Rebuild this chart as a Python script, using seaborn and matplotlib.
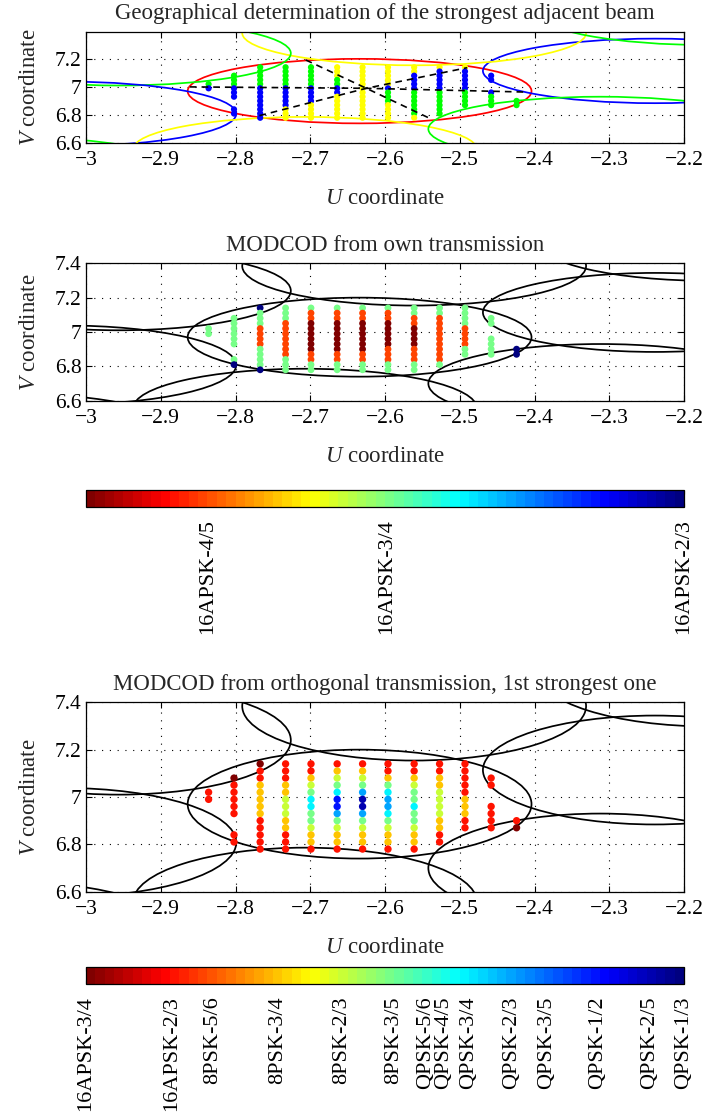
import numpy as np
import pandas as pd
import matplotlib
matplotlib.use("Agg")
import matplotlib.pyplot as plt
import seaborn as sns
from matplotlib.patches import Ellipse
from matplotlib.colors import Normalize, LinearSegmentedColormap
from matplotlib.cm import ScalarMappable
from matplotlib.ticker import FuncFormatter

# ---------------- data ----------------
# evaluation grid inside the central beam
col_u = [-2.836, -2.802, -2.767, -2.733, -2.699, -2.664, -2.630,
         -2.596, -2.561, -2.527, -2.493, -2.458, -2.424]
row_v = [7.14, 7.11, 7.08, 7.05, 7.02, 6.99, 6.96, 6.93, 6.90, 6.87, 6.84, 6.81, 6.78]

# panel 1: strongest adjacent beam (G green, B blue, Y yellow), rows top->bottom
adjacent_cols = [
    "....GB.......",
    "..GGGBBB..BB.",
    "GGGGGBBBBBBBB",
    "GGGGGBBBBBYYY",
    "GGGGGBBBBYYYY",
    "YYYGGBBYYYYYY",
    "YYYYYYYYYYYYY",
    "YYYYYBGGGYYYY",
    "YYBBBBGGGGGGY",
    "YBBBBBGGGGGG.",
    "YBBBBBGGGG...",
    "..BB..BGGG...",
    "........GG...",
]
adjacent_palette = {"G": (0, 1, 0), "B": (0, 0, 1), "Y": (1, 1, 0)}

# panel 2: MODCOD from own transmission
own_cols = [
    "....LL.......",
    "..LLLLLL..LB.",
    "BLLLOOOOLLLLB",
    "LLLOOOOOOOLLL",
    "LOODDDDDDOOLL",
    "LOODDDDDDOOLL",
    "LOODDDDDDOOLL",
    "LOODDDDDOOOLL",
    "LLOODDDDOOOLL",
    "LLOOOOOOOOOL.",
    "LLLLOOOOLL...",
    "..LL..LLLL...",
    "........BB...",
]
own_codes = {"D": "16APSK-5/6", "O": "16APSK-4/5", "L": "16APSK-3/4", "B": "16APSK-2/3"}

# panel 3: MODCOD from orthogonal transmission
orth_cols = [
    "....rr.......",
    "..arrrrr..rr.",
    "arryyyyyrrrrr",
    "rrryygggyyrrr",
    "rryglccllgyyr",
    "ryglcbbklgyyr",
    "ryglkddklgyyr",
    "rrylckkclgyyr",
    "rrygllcllgyyr",
    "rryyggggyyrr.",
    "rrrrryyyrr...",
    "..rr..rrrr...",
    "........ra...",
]
orth_codes = {"a": "16APSK-3/4", "r": "16APSK-2/3", "o": "8PSK-5/6", "y": "8PSK-3/4",
              "g": "8PSK-2/3", "l": "8PSK-3/5", "c": "QPSK-3/4", "k": "QPSK-2/3",
              "b": "QPSK-1/2", "d": "QPSK-2/5"}

# spectral efficiency of each MODCOD (bit/symbol)
modcods = ["16APSK-5/6", "16APSK-4/5", "16APSK-3/4", "16APSK-2/3", "8PSK-5/6", "8PSK-3/4",
           "8PSK-2/3", "8PSK-3/5", "QPSK-5/6", "QPSK-4/5", "QPSK-3/4", "QPSK-2/3",
           "QPSK-3/5", "QPSK-1/2", "QPSK-2/5", "QPSK-1/3"]
efficiency = [3.300184, 3.165623, 2.966728, 2.637201, 2.478562, 2.228124,
              1.980636, 1.779991, 1.654663, 1.587196, 1.487473, 1.322253,
              1.188304, 0.988858, 0.789412, 0.656966]
eff = dict(zip(modcods, efficiency))

cb1_labels = ["16APSK-4/5", "16APSK-3/4", "16APSK-2/3"]
cb2_labels = ["16APSK-3/4", "16APSK-2/3", "8PSK-5/6", "8PSK-3/4", "8PSK-2/3", "8PSK-3/5",
              "QPSK-5/6", "QPSK-4/5", "QPSK-3/4", "QPSK-2/3", "QPSK-3/5", "QPSK-1/2",
              "QPSK-2/5", "QPSK-1/3"]

# beam footprints (centre u, v) and radius
beam_u = [-2.634, -2.239, -2.561, -2.956, -3.029, -2.707, -2.312, -2.166, -3.102]
beam_v = [6.970, 7.114, 7.384, 7.240, 6.808, 6.556, 6.700, 7.528, 6.412]
beam_color = ["red", "blue", "yellow", (0, 1, 0), "blue", "yellow", (0, 1, 0), (0, 1, 0), (0, 1, 0)]
beam_radius = 0.23

# dashed region boundaries (crossing point and 3 pairs of end points)
cross_u, cross_v = -2.625, 6.99
dash_a_u, dash_a_v = [-2.861, -2.410], [7.000, 6.963]
dash_b_u, dash_b_v = [-2.706, -2.539], [7.192, 6.773]
dash_c_u, dash_c_v = [-2.768, -2.490], [6.795, 7.137]


def grid_frame(cols, mapping=None):
    recs = []
    for u, s in zip(col_u, cols):
        for v, ch in zip(row_v, s):
            if ch == ".":
                continue
            recs.append({"u": u, "v": v, "code": ch,
                         "eff": eff[mapping[ch]] if mapping else np.nan})
    return pd.DataFrame(recs)


df1 = grid_frame(adjacent_cols)
df2 = grid_frame(own_cols, own_codes)
df3 = grid_frame(orth_cols, orth_codes)

# ---------------- style ----------------
sns.set_style("ticks")
plt.rcParams["font.family"] = ["Liberation Serif", "DejaVu Serif"]
plt.rcParams["mathtext.fontset"] = "custom"
plt.rcParams["mathtext.it"] = "Liberation Serif:italic"
plt.rcParams["mathtext.rm"] = "Liberation Serif"
plt.rcParams["axes.unicode_minus"] = True

# MATLAB-style jet with 64 levels
matlab_jet = LinearSegmentedColormap("mjet", {
    "red":   [(0, 0, 0), (0.375, 0, 0), (0.625, 1, 1), (0.875, 1, 1), (1, 0.5, 0.5)],
    "green": [(0, 0, 0), (0.125, 0, 0), (0.375, 1, 1), (0.625, 1, 1), (0.875, 0, 0), (1, 0, 0)],
    "blue":  [(0, 0.5, 0.5), (0.125, 1, 1), (0.375, 1, 1), (0.625, 0, 0), (1, 0, 0)],
}, N=64)
norm_own = Normalize(eff["16APSK-2/3"], eff["16APSK-5/6"])
norm_orth = Normalize(eff["QPSK-1/3"], eff["16APSK-3/4"])

W, H = 703, 1117
fig = plt.figure(figsize=(W / 100, H / 100), dpi=100)
L, WD = 86 / W, 598 / W
ax1 = fig.add_axes([L, 1 - 143 / H, WD, 111.5 / H])
ax2 = fig.add_axes([L, 1 - 400.7 / H, WD, 137.4 / H])
cax1 = fig.add_axes([L, 1 - 507 / H, WD, 17 / H])
ax3 = fig.add_axes([L, 1 - 891.7 / H, WD, 189.4 / H])
cax2 = fig.add_axes([L, 1 - 984 / H, WD, 17 / H])

fmt = FuncFormatter(lambda x, p: ("%g" % round(x, 2)).replace("-", "\u2212"))


def style(ax, ytop, title):
    ax.set_xlim(-3, -2.2)
    ax.set_ylim(6.6, ytop)
    ax.set_xticks(np.round(np.arange(-3, -2.15, 0.1), 1))
    ax.set_yticks([t for t in [6.6, 6.8, 7.0, 7.2, 7.4] if t <= ytop + 1e-9])
    ax.xaxis.set_major_formatter(fmt)
    ax.yaxis.set_major_formatter(fmt)
    ax.grid(True, color="k", linestyle=(0, (1, 6)), linewidth=0.8)
    ax.tick_params(direction="in", top=True, right=True, length=4, width=0.8,
                   labelsize=15.5, colors="k")
    ax.tick_params(axis="x", pad=6)
    ax.tick_params(axis="y", pad=3)
    for sp in ax.spines.values():
        sp.set_color("k")
        sp.set_linewidth(0.9)
        sp.set_visible(True)
    ax.set_xlabel(r"$U$ coordinate", fontsize=16.5, labelpad=13)
    ax.set_ylabel(r"$V$ coordinate", fontsize=16.5, labelpad=11)
    ax.set_title(title, fontsize=16.5, pad=9)


def beams(ax, colors):
    for u, v, c in zip(beam_u, beam_v, colors):
        ax.add_patch(Ellipse((u, v), 2 * beam_radius, 2 * beam_radius, fill=False,
                             edgecolor=c, linewidth=1.25, zorder=2))


# panel 1
beams(ax1, beam_color)
sns.scatterplot(data=df1, x="u", y="v", hue="code", palette=adjacent_palette, s=20,
                linewidth=0, legend=False, ax=ax1, zorder=3)
for du, dv in [(dash_a_u, dash_a_v), (dash_b_u, dash_b_v), (dash_c_u, dash_c_v)]:
    ax1.plot([du[0], cross_u, du[1]], [dv[0], cross_v, dv[1]], color="k",
             linestyle=(0, (4, 3)), linewidth=1.2, zorder=4)
style(ax1, 7.395, "Geographical determination of the strongest adjacent beam")

# panel 2
beams(ax2, ["k"] * len(beam_u))
sns.scatterplot(data=df2, x="u", y="v", hue="eff", palette=matlab_jet, hue_norm=norm_own, s=24,
                linewidth=0, legend=False, ax=ax2, zorder=3)
style(ax2, 7.4, "MODCOD from own transmission")

# panel 3
beams(ax3, ["k"] * len(beam_u))
sns.scatterplot(data=df3, x="u", y="v", hue="eff", palette=matlab_jet, hue_norm=norm_orth, s=28,
                linewidth=0, legend=False, ax=ax3, zorder=3)
style(ax3, 7.4, "MODCOD from orthogonal transmission, 1st strongest one")


def colorbar(cax, norm, labels):
    cb = fig.colorbar(ScalarMappable(norm=norm, cmap=matlab_jet), cax=cax, orientation="horizontal")
    cax.invert_xaxis()
    cb.set_ticks([eff[l] for l in labels])
    cb.set_ticklabels(labels)
    cax.tick_params(axis="x", direction="in", length=3, width=0.8, top=True, bottom=True,
                    labelsize=16, pad=9, labelrotation=90, colors="k")
    cb.outline.set_edgecolor("k")
    cb.outline.set_linewidth(0.9)
    return cb


colorbar(cax1, norm_own, cb1_labels)
colorbar(cax2, norm_orth, cb2_labels)

fig.savefig("out.png", dpi=100)
